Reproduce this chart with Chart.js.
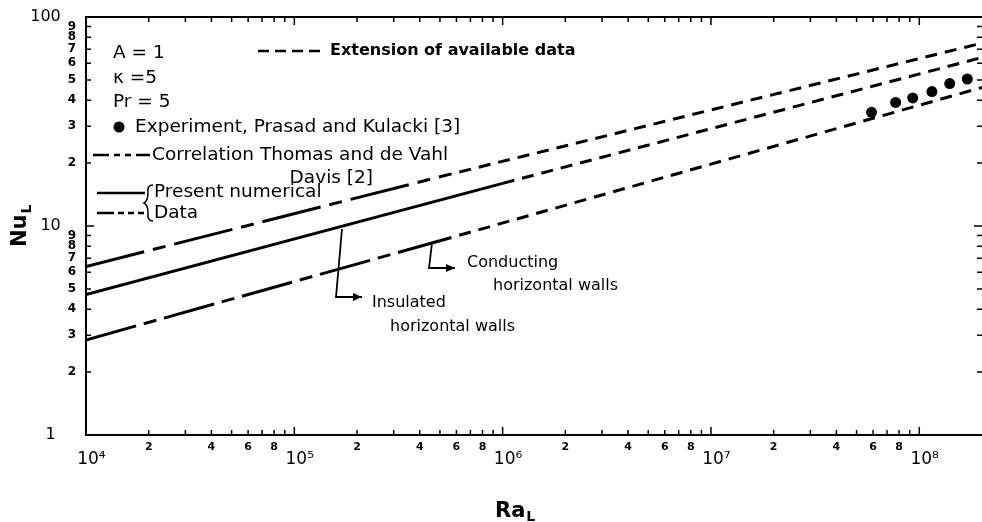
<!DOCTYPE html>
<html><head><meta charset="utf-8">
<script src="https://cdn.jsdelivr.net/npm/chart.js@4/dist/chart.umd.min.js"></script>
<style>html,body{margin:0;padding:0;background:#fff}canvas{display:block}</style>
</head><body>
<canvas id="c" width="982" height="522"></canvas>
<script>
// ---- data (Ra_L, Nu_L) ----
const raCorrelation = [1e4, 5e5];
const nuCorrelation = [6.4, 17.2];
const raCorrelationExt = [5e5, 2e8];
const nuCorrelationExt = [17.2, 75];
const raInsulated = [1e4, 1e6];
const nuInsulated = [4.7, 16];
const raInsulatedExt = [1e6, 2e8];
const nuInsulatedExt = [16, 64];
const raConducting = [1e4, 5e5];
const nuConducting = [2.85, 8.5];
const raConductingExt = [5e5, 2e8];
const nuConductingExt = [8.5, 46];
const raExperiment = [5.9e7, 7.7e7, 9.3e7, 1.15e8, 1.4e8, 1.7e8];
const nuExperiment = [35, 39, 41, 44, 48, 50.5];

// ---- tick labels ----
const xDecades = [4, 5, 6, 7, 8];
const xDecadeLabels = ['10\u2074', '10\u2075', '10\u2076', '10\u2077', '10\u2078'];
const xMinorLabels = ['', '', '2', '', '4', '', '6', '', '8', ''];   // index = mantissa
const yDecades = [0, 1, 2];
const yDecadeLabels = ['1', '10', '100'];
const yMinorLabels = ['', '', '2', '3', '4', '5', '6', '7', '8', '9'];
const mantissas = [1, 2, 3, 4, 5, 6, 7, 8, 9];

const xTickValues = [];
xDecades.forEach(d => mantissas.forEach(m => { const v = m * Math.pow(10, d); if (v < 1.95e8) xTickValues.push(v); }));
const yTickValues = [];
yDecades.forEach(d => mantissas.forEach(m => { const v = m * Math.pow(10, d); if (v <= 100) yTickValues.push(v); }));

function decOf(v) { return Math.floor(Math.log10(v) + 1e-9); }
function manOf(v) { return Math.round(v / Math.pow(10, decOf(v))); }
const xy = (xs, ys) => xs.map((x, i) => ({x: x, y: ys[i]}));

const FONT = '"DejaVu Sans", sans-serif';
const EXT_DASH = [12, 8];
const lineDs = (xs, ys, dash) => ({
  data: xy(xs, ys), showLine: true, borderColor: '#000', borderWidth: 3,
  borderDash: dash, pointRadius: 0, fill: false, tension: 0
});

const boxAndNotes = {
  id: 'boxAndNotes',
  afterDraw(chart) {
    const c = chart.ctx, a = chart.chartArea;
    const xs = chart.scales.x, ys = chart.scales.y;
    c.save();
    c.strokeStyle = '#000'; c.fillStyle = '#000';
    // frame (right side runs off the page in the original)
    c.lineWidth = 2;
    c.beginPath();
    c.moveTo(a.right, a.top); c.lineTo(a.left, a.top); c.lineTo(a.left, a.bottom); c.lineTo(a.right, a.bottom);
    c.stroke();
    // inward tick marks on all four sides
    c.lineWidth = 1.5;
    xs.ticks.forEach(t => {
      const p = xs.getPixelForValue(t.value), len = manOf(t.value) === 1 ? 8 : 5;
      c.beginPath(); c.moveTo(p, a.bottom); c.lineTo(p, a.bottom - len);
      c.moveTo(p, a.top); c.lineTo(p, a.top + len); c.stroke();
    });
    ys.ticks.forEach(t => {
      const p = ys.getPixelForValue(t.value), len = manOf(t.value) === 1 ? 8 : 5;
      c.beginPath(); c.moveTo(a.left, p); c.lineTo(a.left + len, p);
      c.moveTo(a.right, p); c.lineTo(a.right - len, p); c.stroke();
    });

    // ---- legend / parameter text ----
    c.textBaseline = 'middle'; c.textAlign = 'left';
    c.font = '18.5px ' + FONT;
    c.fillText('A = 1', 113, 53);
    c.fillText('\u03BA =5', 113, 78);
    c.fillText('Pr = 5', 113, 102);
    c.beginPath(); c.arc(119, 127, 5.5, 0, 2 * Math.PI); c.fill();
    c.fillText('Experiment, Prasad and Kulacki [3]', 135, 127);
    c.fillText('Correlation Thomas and de Vahl', 152, 155);
    c.textAlign = 'right';
    c.fillText('Davis [2]', 373, 178);
    c.textAlign = 'left';
    c.fillText('Present numerical', 154, 192);
    c.fillText('Data', 154, 213);
    c.font = 'bold 16px ' + FONT;
    c.fillText('Extension of available data', 330, 51);

    // legend line samples
    c.lineWidth = 2.5;
    const sample = (x0, x1, y, dash) => { c.setLineDash(dash); c.beginPath(); c.moveTo(x0, y); c.lineTo(x1, y); c.stroke(); };
    sample(258, 325, 51, [11, 6]);
    sample(93, 150, 155, [16, 5, 6, 5, 6, 5, 40]);
    sample(97, 145, 193, []);
    sample(97, 145, 213, [17, 4, 6, 4, 6, 4, 6, 4]);
    c.setLineDash([]);
    // brace
    c.lineWidth = 1.5;
    c.beginPath();
    c.moveTo(153, 185); c.quadraticCurveTo(147, 185, 148, 192); c.quadraticCurveTo(148, 201, 144, 203);
    c.quadraticCurveTo(148, 205, 148, 213); c.quadraticCurveTo(147, 221, 153, 221);
    c.stroke();

    // ---- curve annotations with arrows ----
    c.font = '16px ' + FONT;
    c.fillText('Insulated', 372, 303);
    c.fillText('horizontal walls', 390, 327);
    c.fillText('Conducting', 467, 263);
    c.fillText('horizontal walls', 493, 286);
    c.lineWidth = 1.8;
    const arrow = (pts) => {
      c.beginPath(); c.moveTo(pts[0][0], pts[0][1]);
      for (let i = 1; i < pts.length; i++) c.lineTo(pts[i][0], pts[i][1]);
      c.stroke();
      const [ex, ey] = pts[pts.length - 1];
      c.beginPath(); c.moveTo(ex, ey); c.lineTo(ex - 9, ey - 4); c.lineTo(ex - 9, ey + 4); c.closePath(); c.fill();
    };
    arrow([[342, 229], [336, 297], [362, 297]]);
    arrow([[432, 243], [429, 268], [455, 268]]);

    // ---- axis titles ----
    c.font = 'bold 21px ' + FONT;
    c.textAlign = 'left'; c.textBaseline = 'alphabetic';
    c.fillText('Ra', 495, 517);
    const raW = c.measureText('Ra').width;
    c.font = 'bold 14px ' + FONT;
    c.fillText('L', 495 + raW + 1, 521);
    c.translate(26, 247); c.rotate(-Math.PI / 2);
    c.font = 'bold 21px ' + FONT;
    c.fillText('Nu', 0, 0);
    const nuW = c.measureText('Nu').width;
    c.font = 'bold 14px ' + FONT;
    c.fillText('L', nuW + 1, 5);
    c.restore();
  }
};

new Chart(document.getElementById('c'), {
  type: 'scatter',
  data: {
    datasets: [
      lineDs(raCorrelation, nuCorrelation, [60, 9, 13, 9]),
      lineDs(raCorrelationExt, nuCorrelationExt, EXT_DASH),
      lineDs(raInsulated, nuInsulated, []),
      lineDs(raInsulatedExt, nuInsulatedExt, EXT_DASH),
      lineDs(raConducting, nuConducting, [52, 8, 13, 8]),
      lineDs(raConductingExt, nuConductingExt, EXT_DASH),
      { data: xy(raExperiment, nuExperiment), showLine: false, pointRadius: 5.5,
        pointBackgroundColor: '#000', pointBorderColor: '#000', pointBorderWidth: 0 }
    ]
  },
  options: {
    responsive: false, animation: false, devicePixelRatio: 1,
    layout: { autoPadding: false, padding: { top: 17, right: 0, left: 0, bottom: 0 } },
    plugins: { legend: { display: false }, tooltip: { enabled: false } },
    scales: {
      x: {
        type: 'logarithmic', position: 'bottom', min: 1e4, max: 2e8,
        afterBuildTicks: s => { s.ticks = xTickValues.map(v => ({ value: v })); },
        afterFit: s => { s.height = 87; s.paddingLeft = 0; s.paddingRight = 0; },
        grid: { display: false, drawTicks: false },
        border: { display: false },
        ticks: {
          autoSkip: false, maxRotation: 0, minRotation: 0, padding: 5, color: '#000',
          callback: v => manOf(v) === 1 ? ['', '  ' + xDecadeLabels[xDecades.indexOf(decOf(v))]] : xMinorLabels[manOf(v)],
          font: ctx => (ctx.tick && manOf(ctx.tick.value) === 1)
            ? { family: FONT, size: 17, lineHeight: '13px' }
            : { family: FONT, size: 11, weight: 'bold', lineHeight: '14px' }
        }
      },
      y: {
        type: 'logarithmic', position: 'left', min: 1, max: 100,
        afterBuildTicks: s => { s.ticks = yTickValues.map(v => ({ value: v })); },
        afterFit: s => { s.width = 86; s.paddingTop = 0; s.paddingBottom = 0; },
        grid: { display: false, drawTicks: false },
        border: { display: false },
        ticks: {
          autoSkip: false, padding: 10, color: '#000',
          callback: v => manOf(v) === 1
            ? yDecadeLabels[yDecades.indexOf(decOf(v))] + (decOf(v) === 0 ? '    ' : '   ')
            : yMinorLabels[manOf(v)],
          font: ctx => (ctx.tick && manOf(ctx.tick.value) === 1)
            ? { family: FONT, size: 16 }
            : { family: FONT, size: 12, weight: 'bold' }
        }
      }
    }
  },
  plugins: [boxAndNotes]
});
</script>
</body></html>
